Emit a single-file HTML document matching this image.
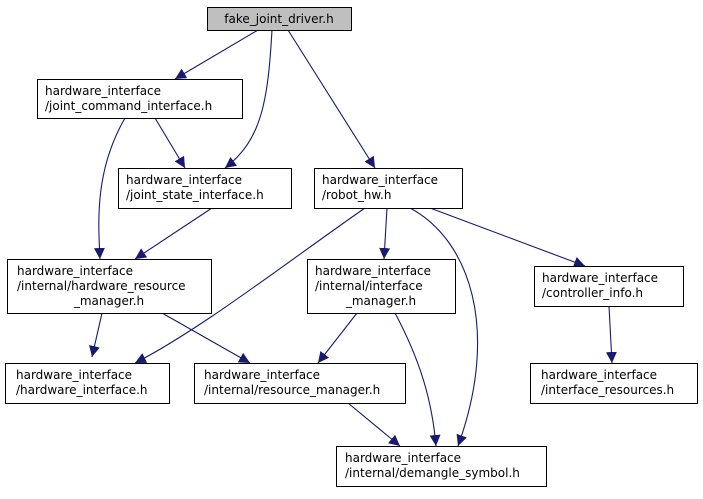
<!DOCTYPE html>
<html><head><meta charset="utf-8"><style>
html,body{margin:0;padding:0;background:#fff;width:703px;height:499px;overflow:hidden}
text{font-family:"DejaVu Sans","Liberation Sans",sans-serif;font-size:12px;fill:#000}
</style></head><body>
<svg width="703" height="499" viewBox="0 0 703 499" xmlns="http://www.w3.org/2000/svg">
<defs><marker id="a" viewBox="0 0 10 10" refX="10" refY="5" markerWidth="11" markerHeight="11" markerUnits="userSpaceOnUse" orient="auto"><path d="M0,0L10,5L0,10z" fill="#191970"/></marker></defs>
<g fill="none" stroke="#191970" stroke-width="1.1" marker-end="url(#a)">
<path d="M258,30L175,79"/>
<path d="M272,30C268,100 262,140 225,168"/>
<path d="M288,30L375,168"/>
<path d="M125,118C95,170 98,220 100,259"/>
<path d="M155,118L185,168"/>
<path d="M212,208L135,259"/>
<path d="M365,208C290,260 200,330 135,363"/>
<path d="M387,208L384,259"/>
<path d="M410,208C470,240 500,330 458,446"/>
<path d="M430,208L585,266"/>
<path d="M102,313L92,357"/>
<path d="M162,313L250,363"/>
<path d="M357,313L318,363"/>
<path d="M395,313C420,360 432,400 436,446"/>
<path d="M609,306L612,363"/>
<path d="M348,403L400,446"/>
</g>
<g stroke="#000" stroke-width="1">
<rect x="207.5" y="7.5" width="144" height="23" fill="#bfbfbf"/>
<rect x="37.5" y="79.5" width="205" height="39" fill="#fff"/>
<rect x="118.5" y="168.5" width="173" height="40" fill="#fff"/>
<rect x="314.5" y="168.5" width="148" height="40" fill="#fff"/>
<rect x="7.5" y="259.5" width="204" height="54" fill="#fff"/>
<rect x="307.5" y="259.5" width="148" height="54" fill="#fff"/>
<rect x="534.5" y="266.5" width="149" height="40" fill="#fff"/>
<rect x="5.5" y="363.5" width="164" height="40" fill="#fff"/>
<rect x="194.5" y="363.5" width="211" height="40" fill="#fff"/>
<rect x="530.5" y="363.5" width="167" height="40" fill="#fff"/>
<rect x="336.5" y="446.5" width="210" height="40" fill="#fff"/>
</g>
<text x="279" y="23" text-anchor="middle">fake_joint_driver.h</text>
<text x="45" y="95">hardware_interface</text><text x="45" y="110">/joint_command_interface.h</text>
<text x="126" y="184">hardware_interface</text><text x="126" y="199">/joint_state_interface.h</text>
<text x="322" y="184">hardware_interface</text><text x="322" y="199">/robot_hw.h</text>
<text x="17" y="275">hardware_interface</text><text x="17" y="290">/internal/hardware_resource</text><text x="109" y="305" text-anchor="middle">_manager.h</text>
<text x="315" y="275">hardware_interface</text><text x="315" y="290">/internal/interface</text><text x="381" y="305" text-anchor="middle">_manager.h</text>
<text x="542" y="282">hardware_interface</text><text x="542" y="297">/controller_info.h</text>
<text x="16" y="379">hardware_interface</text><text x="16" y="394">/hardware_interface.h</text>
<text x="204" y="379">hardware_interface</text><text x="204" y="394">/internal/resource_manager.h</text>
<text x="541" y="379">hardware_interface</text><text x="541" y="394">/interface_resources.h</text>
<text x="345" y="462">hardware_interface</text><text x="345" y="477">/internal/demangle_symbol.h</text>
</svg>
</body></html>
